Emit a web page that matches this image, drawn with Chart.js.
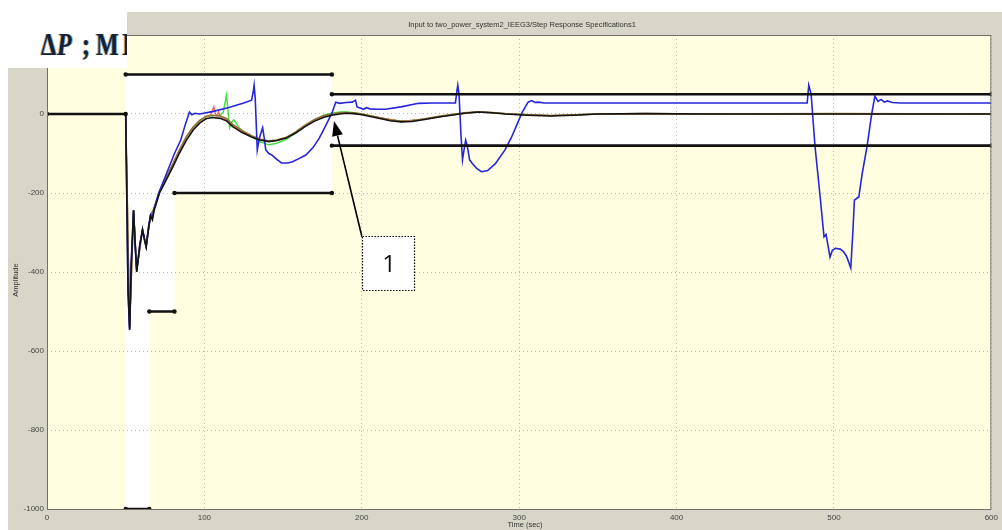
<!DOCTYPE html>
<html>
<head>
<meta charset="utf-8">
<script src="https://cdn.jsdelivr.net/npm/chart.js@4.4.1/dist/chart.umd.min.js"></script>
<style>
  html, body { margin: 0; padding: 0; background: #fff; }
  canvas { display: block; }
</style>
</head>
<body>
<canvas id="mycanvas1" width="1002" height="530"></canvas>
<script>
// step response constraint bounds (time edges, upper / lower value per interval)
var boundEdges = [0, 50, 65, 81, 181, 600];
var upperBound = [0, 100, 100, 100, 50];
var lowerBound = [0, -1000, -500, -200, -80];

var xTicks = [0, 100, 200, 300, 400, 500, 600];
var yTicks = [-1000, -800, -600, -400, -200, 0, 200];

// response curves, [time, amplitude]
var blackCurve = [[0,0],[50,0],[50.5,-150],[51.5,-450],[52.5,-547],[53.5,-380],[55,-243],[56,-330],[57,-400],[59,-330],[60.7,-294],[62,-320],[63,-337],[64.5,-290],[65.8,-258],[67,-268],[68,-245],[71.5,-200],[76,-165],[80,-134],[84,-100],[88.6,-66],[93,-40],[97,-23],[101,-12],[105,-9],[110,-11],[114,-17],[118,-32],[124,-47],[130,-58],[135,-66],[141,-70],[146,-67],[152,-61],[158,-48],[164,-32],[170,-18],[176,-8],[181,-3],[186,0],[190,2],[195,1],[200,-2],[210,-10],[218,-17],[225,-20],[232,-19],[240,-14],[250,-7],[257,-3],[265,2],[274,5],[283,3],[291,0],[305,-3],[320,-5],[335,-3],[350,0],[380,1],[420,0],[500,0],[600,0]];

var brownCurve = [[0,0],[50,0],[52.5,-540],[55,-245],[57,-395],[60.7,-292],[63,-335],[65.8,-256],[68,-240],[71.5,-195],[76,-158],[80,-126],[84,-92],[88.6,-57],[93,-32],[97,-16],[101,-6],[105,-3],[110,-5],[114,-11],[118,-26],[124,-42],[130,-55],[135,-63],[141,-68],[146,-66],[152,-59],[158,-45],[164,-28],[170,-14],[176,-4],[181,0],[186,3],[190,4],[195,3],[200,0],[210,-8],[218,-15],[225,-18],[232,-17],[240,-12],[250,-5],[257,-1],[265,3],[274,6],[283,4],[291,1],[305,-2],[320,-4],[335,-2],[350,0],[380,1],[420,0],[500,1],[600,0]];

var greenCurve = [[0,0],[50,0],[52.5,-540],[55,-245],[57,-395],[60.7,-292],[63,-335],[65.8,-256],[68,-240],[71.5,-197],[76,-160],[80,-128],[84,-94],[88.6,-59],[93,-34],[97,-18],[101,-7],[105,-4],[110,-4],[112,5],[114,48],[115,10],[116,-35],[117.5,-20],[118.6,-15],[120,-22],[120.7,-26],[122,-35],[126,-48],[130,-58],[135,-70],[141,-78],[146,-74],[152,-64],[158,-48],[164,-30],[170,-14],[176,-3],[181,2],[186,5],[190,5],[195,3],[200,0],[210,-9],[225,-19],[240,-13],[257,-2],[274,5],[291,1],[320,-4],[350,0],[600,0]];

var redCurve = [[0,0],[50,0],[52.5,-542],[55,-244],[57,-397],[60.7,-293],[63,-336],[65.8,-257],[68,-241],[71.5,-196],[76,-159],[80,-127],[84,-93],[88.6,-58],[93,-33],[97,-17],[101,-6],[104,-2],[106,18],[107,0],[108,-5],[109,5],[110,-6],[114,-12],[118,-28],[124,-44],[130,-56],[135,-64],[141,-69],[146,-67],[152,-60],[158,-46],[164,-29],[170,-15],[176,-5],[181,-1],[190,3],[200,-1],[225,-19],[240,-13],[257,-2],[274,5],[291,1],[320,-4],[350,0],[600,0]];

var blueCurve = [[0,0],[50,0],[50.5,-150],[51.5,-450],[52.5,-545],[53.5,-380],[55,-245],[56,-330],[57,-398],[59,-330],[60.7,-292],[62,-318],[63,-335],[64.5,-285],[65.8,-255],[67,-262],[68,-240],[71,-200],[74.5,-165],[77.6,-134],[81,-100],[85,-66],[88,-25],[90.5,5],[92,-2],[94,2],[97,0],[105,6],[115,16],[125,28],[130,35],[131,55],[131.6,73],[132.3,40],[133.6,-91],[135,-60],[137,-35],[138,-60],[139,-91],[141,-100],[143,-104],[146,-115],[149,-124],[153,-124],[156,-121],[160,-113],[164.5,-104],[169,-85],[173,-61],[177,-30],[181,2],[183.5,30],[186,27],[190,29],[194,30],[196,35],[197,18],[199,15],[201,12],[203,16],[205,13],[210,12],[215,12],[225,18],[236,27],[245,28],[259.5,28],[260.5,60],[261,73],[261.8,50],[263,-50],[264,-116],[265,-90],[266,-66],[267,-80],[268.5,-116],[270,-124],[273,-138],[276,-146],[280,-143],[285,-125],[291,-91],[295,-60],[299,-23],[302,5],[305.7,30],[308,34],[310,29],[312,30],[316,28],[350,28],[483,28],[484,73],[485.5,50],[488,-83],[491,-200],[493.7,-311],[495,-305],[497.5,-362],[499,-345],[501,-340],[504,-342],[506,-348],[508,-360],[510.7,-390],[512,-300],[513,-218],[515,-212],[515.8,-210],[518,-150],[521,-83],[524,0],[526,45],[528,32],[530,37],[532,30],[534,33],[537,29],[542,28],[600,28]];

var chartTitle = "Input to two_power_system2_IEEG3/Step Response Specifications1";
var yTitle = "Amplitude";
var xTitle = "Time (sec)";
var calloutText = "1";

function pts(arr) {
	return arr.map(function(p){ return {x: p[0], y: p[1]}; });
}

// bound segments from interval "from" on, merged where neighbours share a value
function boundLine(vals, from) {
	var out = [];
	var i = from;
	while (i < vals.length) {
		var j = i;
		while (j + 1 < vals.length && vals[j + 1] == vals[i]) j++;
		out.push({x: boundEdges[i], y: vals[i]});
		out.push({x: boundEdges[j + 1], y: vals[i]});
		out.push({x: boundEdges[j + 1], y: null});
		i = j + 1;
	}
	return out;
}

var bgPlugin = {
	id: 'bg',
	beforeDraw: function(chart) {
		var ctx = chart.ctx, a = chart.chartArea;
		var xs = chart.scales.x, ys = chart.scales.y;
		ctx.save();
		ctx.fillStyle = '#ffffff';
		ctx.fillRect(0, 0, chart.width, chart.height);
		ctx.fillStyle = '#d8d6c9';
		ctx.fillRect(8, 12, chart.width - 8, chart.height - 12);
		ctx.fillStyle = '#fffee0';
		ctx.fillRect(a.left, a.top, a.right - a.left, a.bottom - a.top);
		ctx.fillStyle = '#ffffff';
		for (var i = 0; i < upperBound.length; i++) {
			if (upperBound[i] <= lowerBound[i]) continue;
			var x0 = xs.getPixelForValue(boundEdges[i]);
			var x1 = xs.getPixelForValue(boundEdges[i + 1]);
			var y0 = Math.max(a.top, ys.getPixelForValue(upperBound[i]));
			var y1 = Math.min(a.bottom, ys.getPixelForValue(lowerBound[i]));
			ctx.fillRect(x0, y0, x1 - x0, y1 - y0);
		}
		ctx.restore();
	},
	afterDraw: function(chart) {
		var ctx = chart.ctx, a = chart.chartArea;
		ctx.save();
		// axes box
		ctx.strokeStyle = '#707068';
		ctx.lineWidth = 1;
		ctx.strokeRect(a.left + 0.5, a.top + 0.5, a.right - a.left - 1, a.bottom - a.top);

		// title and axis titles
		ctx.fillStyle = '#333';
		ctx.font = '7.5px "Liberation Sans", Arial, sans-serif';
		ctx.textAlign = 'center';
		ctx.textBaseline = 'middle';
		ctx.fillText(chartTitle, 522, 25);
		ctx.fillText(xTitle, 525, 525);
		ctx.save();
		ctx.translate(16, 280);
		ctx.rotate(-Math.PI / 2);
		ctx.fillText(yTitle, 0, 0);
		ctx.restore();

		// pasted label box at top-left
		ctx.fillStyle = '#ffffff';
		ctx.fillRect(0, 0, 127, 68);
		ctx.beginPath();
		ctx.rect(0, 0, 127, 68);
		ctx.clip();
		var glyphs = [['\u0394', 41, 'bold'], ['P', 57, 'italic bold'], [';', 82, 'bold'], ['M', 96, 'bold'], ['I', 122, 'bold']];
		var shades = [['rgba(230,140,40,0.8)', -1], ['rgba(60,150,240,0.8)', 1], ['#14213a', 0]];
		ctx.textAlign = 'left';
		ctx.textBaseline = 'alphabetic';
		shades.forEach(function(s){
			ctx.fillStyle = s[0];
			glyphs.forEach(function(g){
				ctx.save();
				ctx.translate(g[1] + s[1], 55);
				ctx.scale(0.75, 1);
				ctx.font = g[2] + ' 32px "Liberation Serif", "DejaVu Serif", serif';
				ctx.fillText(g[0], 0, 0);
				ctx.restore();
			});
		});
		ctx.restore();

		// callout box with arrow
		ctx.save();
		var tipX = 334, tipY = 121, fromX = 362, fromY = 237;
		ctx.strokeStyle = '#000';
		ctx.fillStyle = '#000';
		ctx.lineWidth = 1.6;
		var ang = Math.atan2(tipY - fromY, tipX - fromX);
		var hl = 15, hw = 5.5;
		var bx = tipX - hl * Math.cos(ang), by = tipY - hl * Math.sin(ang);
		ctx.beginPath();
		ctx.moveTo(fromX, fromY);
		ctx.lineTo(bx, by);
		ctx.stroke();
		ctx.beginPath();
		ctx.moveTo(tipX, tipY);
		ctx.lineTo(bx + hw * Math.sin(ang), by - hw * Math.cos(ang));
		ctx.lineTo(bx - hw * Math.sin(ang), by + hw * Math.cos(ang));
		ctx.closePath();
		ctx.fill();

		ctx.fillStyle = '#ffffff';
		ctx.fillRect(362, 236, 52, 54);
		ctx.lineWidth = 1.2;
		ctx.setLineDash([1.5, 1.5]);
		ctx.strokeRect(362.5, 236.5, 52, 54);
		ctx.setLineDash([]);
		ctx.fillStyle = '#111';
		ctx.font = '24px "Open Sans", "Liberation Sans", sans-serif';
		ctx.textAlign = 'center';
		ctx.textBaseline = 'middle';
		ctx.fillText(calloutText, 389, 265);
		ctx.restore();
	}
};

function curve(label, arr, color, width) {
	return {
		label: label,
		data: pts(arr),
		borderColor: color,
		backgroundColor: color,
		borderWidth: width,
		pointRadius: 0,
		fill: false,
		tension: 0
	};
}

function bound(label, data) {
	return {
		label: label,
		data: data,
		borderColor: '#111',
		backgroundColor: '#111',
		borderWidth: 2.6,
		pointRadius: 2.2,
		pointBorderWidth: 0,
		pointBackgroundColor: '#111',
		fill: false,
		spanGaps: false,
		tension: 0
	};
}

function plainTick(v) {
	return String(v);
}

var ctx = document.getElementById('mycanvas1');

// dataset 0 is drawn on top
var LineGraph = new Chart(ctx, {
	type: 'line',
	data: {
		datasets: [
			bound('Upper bound', boundLine(upperBound, 0)),
			bound('Lower bound', boundLine(lowerBound, 1)),
			curve('Black', blackCurve, '#141414', 1.6),
			curve('Blue', blueCurve, '#2626d8', 1.6),
			curve('Brown', brownCurve, '#8f7434', 1.5),
			curve('Red', redCurve, '#f06262', 1.4),
			curve('Green', greenCurve, '#3ee03e', 1.4)
		]
	},
	options: {
		responsive: false,
		animation: false,
		devicePixelRatio: 1,
		layout: { padding: { left: 0, right: 4, top: 35, bottom: 0 }, autoPadding: false },
		plugins: {
			legend: { display: false },
			tooltip: { enabled: false }
		},
		scales: {
			x: {
				type: 'linear',
				min: 0,
				max: 600,
				afterFit: function(s){ s.height = 21; },
				afterBuildTicks: function(s){ s.ticks = xTicks.map(function(v){ return {value: v}; }); },
				grid: { color: '#b8b8b0', lineWidth: 1, drawTicks: false },
				border: { display: false, dash: [1, 3] },
				ticks: { color: '#444', font: { size: 8, family: '"Liberation Sans", Arial' }, padding: 4, maxRotation: 0, callback: plainTick }
			},
			y: {
				type: 'linear',
				min: -1000,
				max: 200,
				afterFit: function(s){ s.width = 47; },
				afterBuildTicks: function(s){ s.ticks = yTicks.map(function(v){ return {value: v}; }); },
				grid: { color: '#b8b8b0', lineWidth: 1, drawTicks: false },
				border: { display: false, dash: [1, 3] },
				ticks: { color: '#444', font: { size: 8, family: '"Liberation Sans", Arial' }, padding: 3, callback: plainTick }
			}
		}
	},
	plugins: [bgPlugin]
});
</script>
</body>
</html>
